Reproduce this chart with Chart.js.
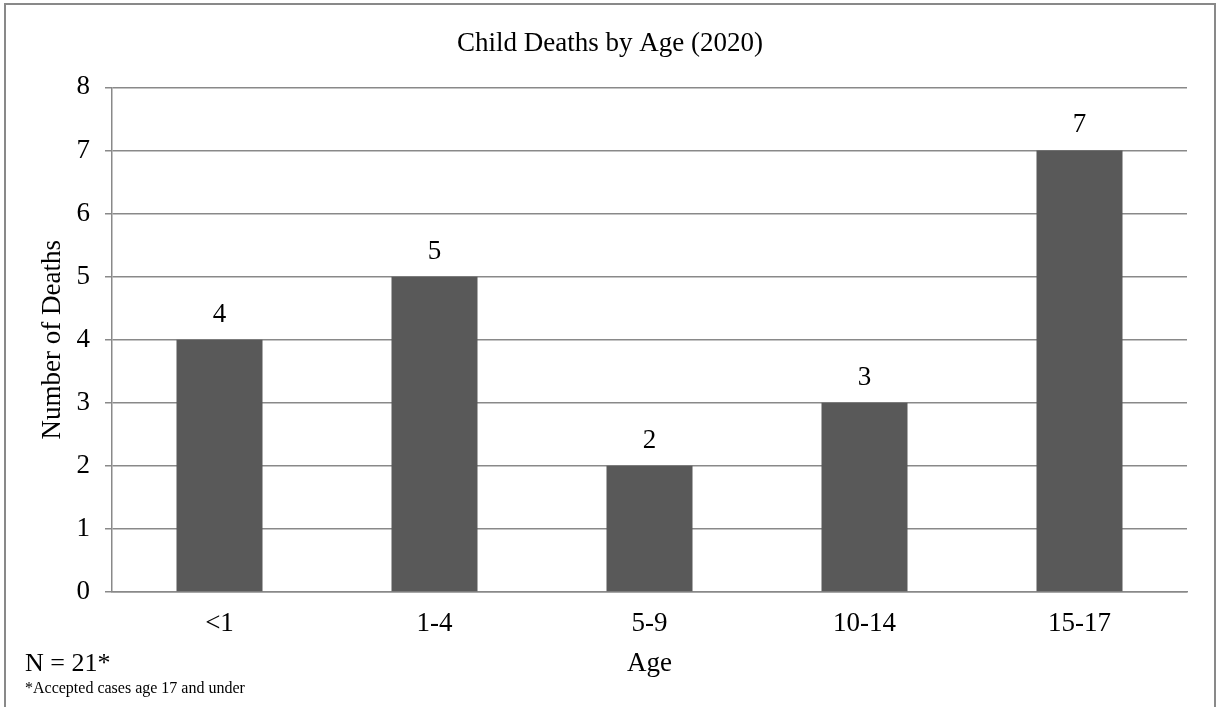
<!DOCTYPE html>
<html>
<head>
<meta charset="utf-8">
<title>Child Deaths by Age (2020)</title>
<script src="https://cdn.jsdelivr.net/npm/chart.js@4"></script>
<style>
  html, body { margin: 0; padding: 0; background: #fff; }
  #wrap { position: relative; width: 1217px; height: 707px; overflow: hidden; }
  #frame {
    position: absolute; left: 4px; top: 3px; width: 1208px; height: 740px;
    border: 2px solid #898989;
  }
  #chart { position: absolute; left: 0; top: 0; }
  .note { position: absolute; font-family: "Liberation Serif", "Times New Roman", serif; color: #000; white-space: nowrap; }
  #n { left: 25px; top: 650px; font-size: 26px; line-height: 26px; }
  #foot { left: 25px; top: 680px; font-size: 16px; line-height: 16px; }
</style>
</head>
<body>
<div id="wrap">
  <div id="frame"></div>
  <canvas id="chart" width="1217" height="707"></canvas>
  <div class="note" id="n">N = 21*</div>
  <div class="note" id="foot">*Accepted cases age 17 and under</div>
</div>
<script>
// values
const ageGroups = ["<1", "1-4", "5-9", "10-14", "15-17"];
const deaths = [4, 5, 2, 3, 7];
const yTicks = [0, 1, 2, 3, 4, 5, 6, 7, 8];

const serif = "'Liberation Serif', 'Times New Roman', serif";
const grey = "#898989";

// number above each bar
const barLabels = {
  id: "barLabels",
  afterDatasetsDraw(chart) {
    const ctx = chart.ctx;
    const meta = chart.getDatasetMeta(0);
    ctx.save();
    ctx.font = "27px " + serif;
    ctx.fillStyle = "#000";
    ctx.textAlign = "center";
    ctx.textBaseline = "alphabetic";
    meta.data.forEach((bar, i) => {
      ctx.fillText(String(deaths[i]), bar.x, bar.y - 18);
    });
    ctx.restore();
  }
};

new Chart(document.getElementById("chart"), {
  type: "bar",
  data: {
    labels: ageGroups,
    datasets: [{
      label: "Number of Deaths",
      data: deaths,
      backgroundColor: "#595959",
      borderWidth: 0,
      barPercentage: 0.4,
      categoryPercentage: 1.0
    }]
  },
  options: {
    responsive: false,
    animation: false,
    layout: { padding: { left: 33, right: 30, top: 0, bottom: 23 } },
    plugins: {
      legend: { display: false },
      tooltip: { enabled: false },
      title: {
        display: true,
        text: "Child Deaths by Age (2020)",
        color: "#000",
        font: { family: serif, size: 27, weight: "normal" },
        padding: { top: 28, bottom: 27 }
      }
    },
    scales: {
      x: {
        grid: { display: false, drawTicks: false },
        border: { display: true, color: grey, width: 1.5 },
        ticks: { color: "#000", padding: 16, font: { family: serif, size: 27 } },
        title: {
          display: true,
          text: "Age",
          color: "#000",
          font: { family: serif, size: 27 },
          padding: { top: 4, bottom: 4 }
        },
        afterFit(scale) { scale.height = 92; }
      },
      y: {
        min: 0,
        max: 8,
        afterBuildTicks(scale) { scale.ticks = yTicks.map(v => ({ value: v })); },
        grid: { color: grey, lineWidth: 1.5, tickLength: 7, drawTicks: true },
        border: { display: true, color: grey, width: 1.5 },
        ticks: { color: "#000", padding: 15, font: { family: serif, size: 27 } },
        title: {
          display: true,
          text: "Number of Deaths",
          color: "#000",
          font: { family: serif, size: 27 },
          padding: { top: 4, bottom: 4 }
        },
        afterFit(scale) { scale.width = 79; }
      }
    }
  },
  plugins: [barLabels]
});
</script>
</body>
</html>
